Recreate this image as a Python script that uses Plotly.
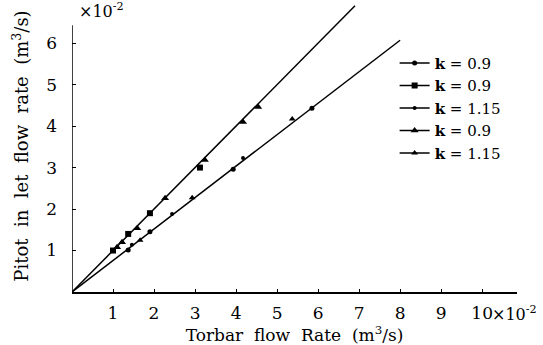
import plotly.graph_objects as go

FONT = "DejaVu Serif"

# series (x in 1e-2 m^3/s, y in 1e-2 m^3/s)
a_x = [1.37, 1.90, 3.93, 5.85]
a_y = [1.01, 1.45, 2.96, 4.43]
b_x = [1.00, 1.37, 1.90, 3.12]
b_y = [1.00, 1.40, 1.90, 3.00]
c_x = [1.46, 2.44, 4.17]
c_y = [1.14, 1.88, 3.23]
d_x = [1.10, 1.22, 1.59, 2.27, 3.24, 4.17, 4.54]
d_y = [1.08, 1.20, 1.54, 2.26, 3.18, 4.10, 4.46]
e_x = [1.66, 2.93, 5.37]
e_y = [1.25, 2.27, 4.17]

# fitted lines
up_x = [0, 6.9]
up_y = [0, 6.9]
lo_x = [0, 8.0]
lo_y = [0, 6.07]

names = ["<b>k</b> = 0.9", "<b>k</b> = 0.9", "<b>k</b> = 1.15", "<b>k</b> = 0.9", "<b>k</b> = 1.15"]
symbols = ["circle", "square", "circle", "triangle-up", "triangle-up"]
msizes = [5, 6, 4, 7, 6]
series = [(a_x, a_y), (b_x, b_y), (c_x, c_y), (d_x, d_y), (e_x, e_y)]

x_ticks = [1, 2, 3, 4, 5, 6, 7, 8, 9, 10]
y_ticks = [1, 2, 3, 4, 5, 6]

fig = go.Figure()
for fx, fy in [(up_x, up_y), (lo_x, lo_y)]:
    fig.add_trace(go.Scatter(x=fx, y=fy, mode="lines", showlegend=False,
                             line=dict(color="black", width=1.5), hoverinfo="skip"))
for (sx, sy), sym, ms in zip(series, symbols, msizes):
    fig.add_trace(go.Scatter(x=sx, y=sy, mode="markers", showlegend=False,
                             marker=dict(symbol=sym, size=ms, color="black")))
# legend entries (line + marker sample)
for nm, sym, ms in zip(names, symbols, msizes):
    fig.add_trace(go.Scatter(x=[None], y=[None], mode="lines+markers", name=nm,
                             line=dict(color="black", width=1.5),
                             marker=dict(symbol=sym, size=ms, color="black")))

fig.add_shape(type="line", xref="x", yref="y", x0=0, x1=0, y0=0, y1=6.43,
              line=dict(color="black", width=1.5))

fig.add_annotation(x=0.12, y=6.78, xref="x", yref="y", xanchor="left", yanchor="middle",
                   text="×10<sup>-2</sup>", showarrow=False,
                   font=dict(family=FONT, size=16, color="black"))
fig.add_annotation(x=10.2, y=-0.075, xref="x", yref="paper", xanchor="left", yanchor="middle",
                   text="×10<sup>-2</sup>", showarrow=False,
                   font=dict(family=FONT, size=16, color="black"))

fig.update_layout(
    width=543, height=345,
    margin=dict(l=72, r=26, t=0, b=53),
    paper_bgcolor="white", plot_bgcolor="white",
    font=dict(family=FONT, size=16, color="black"),
    legend=dict(x=0.725, y=0.84, xanchor="left", yanchor="top",
                bgcolor="rgba(0,0,0,0)", font=dict(family=FONT, size=15),
                tracegroupgap=0, itemwidth=30),
)
fig.update_xaxes(range=[0, 10.85], tickvals=x_ticks,
                 ticktext=[str(t) for t in x_ticks],
                 showline=True, linecolor="black", linewidth=1.5,
                 ticks="inside", ticklen=3, tickcolor="black",
                 showgrid=False, zeroline=False, ticklabelstandoff=5,
                 tickfont=dict(family=FONT, size=17),
                 title=dict(text="Torbar&nbsp; flow&nbsp; Rate&nbsp; (m<sup>3</sup>/s)", standoff=4,
                            font=dict(family=FONT, size=17)))
fig.update_yaxes(range=[0, 7.04], tickvals=y_ticks,
                 showline=False, ticks="inside", ticklen=4, tickcolor="black",
                 showgrid=False, zeroline=False, ticklabelstandoff=14,
                 tickfont=dict(family=FONT, size=17),
                 title=dict(text="Pitot&nbsp; in&nbsp; let&nbsp; flow&nbsp; rate&nbsp; (m<sup>3</sup>/s)",
                            standoff=12, font=dict(family=FONT, size=18)))

fig.write_html("out.html")
